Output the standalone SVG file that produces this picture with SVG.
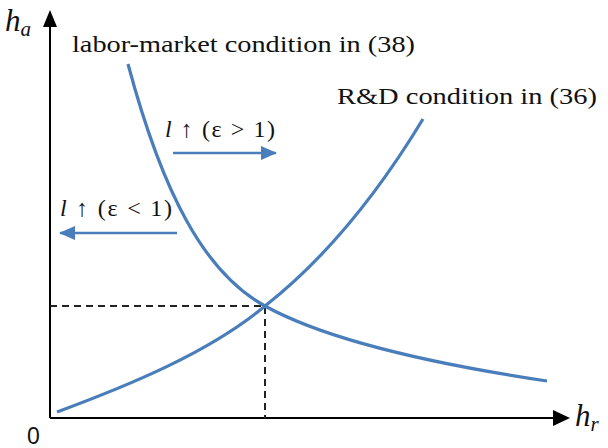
<svg xmlns="http://www.w3.org/2000/svg" width="608" height="448" viewBox="0 0 608 448">
<style>
.t{font-family:"Liberation Serif","Times New Roman",serif;fill:#111}
.c{fill:none;stroke:#4a7ebb;stroke-width:3.2}
.ax{stroke:#000;stroke-width:2;fill:none}
.d{stroke:#222;stroke-width:2;stroke-dasharray:7,5;fill:none}
.ar{stroke:#4a7ebb;stroke-width:2.4;fill:none}
</style>
<defs>
<marker id="bl" markerWidth="16" markerHeight="14" refX="15" refY="7" orient="auto" markerUnits="userSpaceOnUse" viewBox="0 0 16 14"><path d="M0,0 L16,7 L0,14 z" fill="#4a7ebb"/></marker>
</defs>
<g id="axes">
<line class="ax" x1="50" y1="418" x2="50" y2="14"/>
<path d="M43,27 L50,10 L57,27 z" fill="#000"/>
<line class="ax" x1="50" y1="418" x2="556" y2="418"/>
<path d="M553,410 L570,418 L553,426 z" fill="#000"/>
<text class="t" x="5" y="31" font-size="31" font-style="italic">h<tspan font-size="21" dy="5">a</tspan></text>
<text class="t" x="575" y="426" font-size="31" font-style="italic">h<tspan font-size="21" dy="5">r</tspan></text>
<text class="t" x="27" y="444" font-size="23" style="font-family:'Liberation Sans',Arial,sans-serif">0</text>
</g>
<g id="guides">
<path class="d" d="M50,306 H265 V418"/>
</g>
<g id="labor-curve">
<path class="c" d="M128,64 C163,195 205,273 265,306 C330,342 440,365 547,381"/>
<text class="t" x="72" y="52" font-size="24" textLength="343" lengthAdjust="spacingAndGlyphs">labor-market condition in (38)</text>
</g>
<g id="rd-curve">
<path class="c" d="M57,412 C130,385 210,352 265,306 C330,255 380,190 423,119"/>
<text class="t" x="337" y="104" font-size="24" textLength="260" lengthAdjust="spacingAndGlyphs">R&amp;D condition in (36)</text>
</g>
<g id="connectors">
<line class="ar" x1="173" y1="153" x2="276" y2="153" marker-end="url(#bl)"/>
<line class="ar" x1="177" y1="233" x2="60" y2="233" marker-end="url(#bl)"/>
</g>
<g id="labels">
<text class="t" x="165" y="137" font-size="24" textLength="110"><tspan font-style="italic">l</tspan> ↑ (ε &gt; 1)</text>
<text class="t" x="60" y="216" font-size="24" textLength="112"><tspan font-style="italic">l</tspan> ↑ (ε &lt; 1)</text>
</g>
</svg>
